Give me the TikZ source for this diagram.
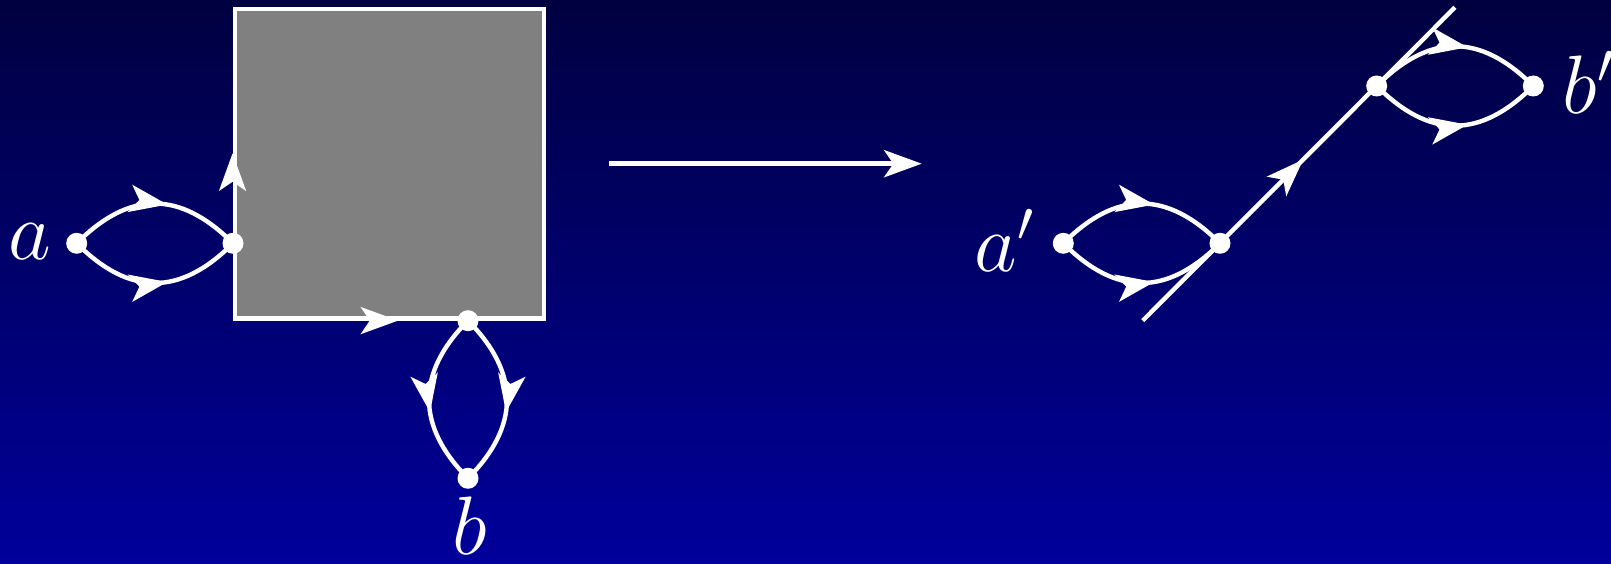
\documentclass[tikz,border=0pt]{standalone}
\usetikzlibrary{arrows.meta,decorations.markings}
\definecolor{bgtop}{RGB}{0,0,64}
\definecolor{bgbottom}{RGB}{0,0,155}
\tikzset{
  >={Stealth[length=9.4pt,width=6.8pt,inset=2.3pt]},
  wire/.style={draw=white,line width=1.1pt},
  dot/.style={circle,fill=white,inner sep=0pt,minimum size=5.25pt},
  lbl/.style={text=white,inner sep=0pt,anchor=base west,font=\fontsize{19.5}{23}\selectfont},
  midarrow/.style={postaction={decorate,decoration={markings,
      mark=at position #1 with {\arrow[white]{>}}}}},
}
\begin{document}
\begin{tikzpicture}[x=0.25pt,y=-0.25pt]
  % background
  \shade[top color=bgtop,bottom color=bgbottom] (0,0) rectangle (1611,564);
  \useasboundingbox (0,0) rectangle (1611,564);

  % ---- left: blob with two attached loops ----
  \node[draw=white,line width=1.125pt,fill={rgb,255:red,128;green,128;blue,128},
        minimum size=77.3pt,inner sep=0pt] (box) at (389.4,163.75) {};
  \path[midarrow=0.533] (box.south west) -- (box.north west);
  \path[midarrow=0.528] (box.south west) -- (box.south east);

  \node[dot] (a)  at (76.7,243.3) {};
  \node[dot] (ar) at (233,243.3) {};
  \node[dot] (bt) at (468,320.7) {};
  \node[dot] (b)  at (468,478.3) {};

  \draw[wire,midarrow=0.57] (a.center) .. controls +(53,-53) and +(-53,-53) .. (ar.center);
  \draw[wire,midarrow=0.57] (a.center) .. controls +(53,53) and +(-53,53) .. (ar.center);
  \draw[wire,midarrow=0.57] (bt.center) .. controls +(-52,52) and +(-52,-52) .. (b.center);
  \draw[wire,midarrow=0.57] (bt.center) .. controls +(52,52) and +(52,-52) .. (b.center);

  \node[lbl] (la) at (8,260) {$a$};
  \node[lbl] (lb) at (452,555) {$b$};

  % ---- arrow between the two sides ----
  \coordinate (m0) at (609.3,163.7);
  \coordinate (m1) at (921.7,163.7);
  \draw[wire,->] (m0) -- (m1);

  % ---- right: straight line with two loops ----
  \coordinate (l0) at (1142.7,320.7);
  \coordinate (l1) at (1455,7.3);
  \draw[wire,midarrow=0.5155] (l0) -- (l1);

  \node[dot] (ap)  at (1063.3,243.3) {};
  \node[dot] (apr) at (1220,243.3) {};
  \node[dot] (bpl) at (1376.7,86) {};
  \node[dot] (bp)  at (1533.3,86) {};

  \draw[wire,midarrow=0.57] (ap.center) .. controls +(53,-53) and +(-53,-53) .. (apr.center);
  \draw[wire,midarrow=0.57] (ap.center) .. controls +(53,53) and +(-53,53) .. (apr.center);
  \draw[wire,midarrow=0.57] (bpl.center) .. controls +(53,-53) and +(-53,-53) .. (bp.center);
  \draw[wire,midarrow=0.57] (bpl.center) .. controls +(53,53) and +(-53,53) .. (bp.center);

  \node[lbl] (lap) at (974,272) {$a'$};
  \node[lbl] (lbp) at (1562,114) {$b'$};
\end{tikzpicture}
\end{document}
